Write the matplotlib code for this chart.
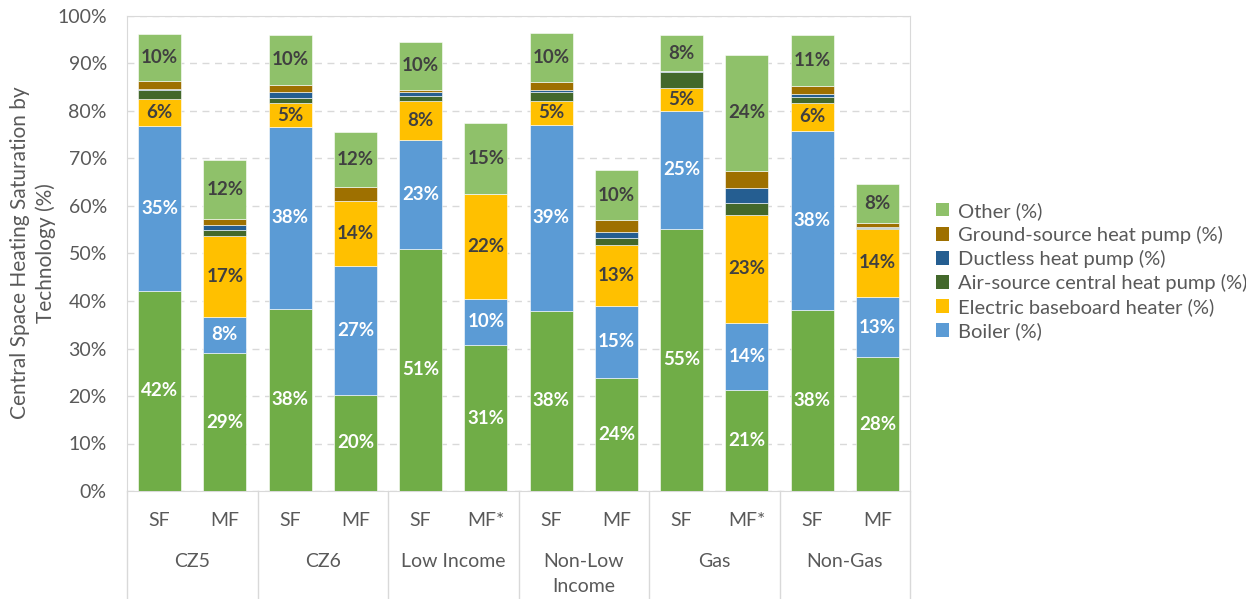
import matplotlib
matplotlib.use("Agg")
import matplotlib.pyplot as plt
from matplotlib.patches import Patch
from matplotlib.lines import Line2D
import numpy as np

plt.rcParams['font.family'] = ['Lato', 'DejaVu Sans']

groups = ["CZ5", "CZ6", "Low Income", "Non-Low\nIncome", "Gas", "Non-Gas"]
subs = ["SF", "MF", "SF", "MF", "SF", "MF*", "SF", "MF", "SF", "MF*", "SF", "MF"]

furnace  = [42.2, 29.0, 38.4, 20.3, 51.0, 30.7, 38.0, 23.8, 55.2, 21.2, 38.1, 28.2]
boiler   = [34.6, 7.7, 38.2, 27.0, 22.8, 9.8, 39.1, 15.2, 24.8, 14.2, 37.7, 12.6]
elec     = [5.8, 17.0, 5.1, 13.8, 8.2, 22.0, 5.1, 12.8, 4.8, 22.7, 5.9, 14.4]
ashp     = [1.8, 1.2, 1.1, 0.0, 1.2, 0.0, 1.8, 1.4, 3.4, 2.5, 1.3, 0.2]
ductless = [0.3, 1.1, 1.3, 0.0, 0.8, 0.0, 0.4, 1.3, 0.2, 3.1, 0.5, 0.1]
gshp     = [1.6, 1.2, 1.4, 2.8, 0.4, 0.0, 1.8, 2.6, 0.0, 3.7, 1.8, 0.9]
other    = [9.9, 12.4, 10.5, 11.6, 10.2, 15.0, 10.2, 10.4, 7.6, 24.4, 10.7, 8.2]

series = [
    ("Furnace (%)", furnace, "#70AD47", "white", False),
    ("Boiler (%)", boiler, "#5B9BD5", "white", True),
    ("Electric baseboard heater (%)", elec, "#FFC000", "#404040", True),
    ("Air-source central heat pump (%)", ashp, "#43682B", "#404040", True),
    ("Ductless heat pump (%)", ductless, "#255E91", "#404040", True),
    ("Ground-source heat pump (%)", gshp, "#9E7000", "#404040", True),
    ("Other (%)", other, "#8FC16A", "#404040", True),
]

W, H = 1246, 599
fig = plt.figure(figsize=(W / 100, H / 100), dpi=100)
ax = fig.add_axes([127 / W, (H - 491) / H, (910 - 127) / W, (491 - 16) / H])

x = np.arange(len(subs))
bottom = np.zeros(len(subs))
handles = []
for name, vals, col, tcol, inleg in series:
    vals = np.array(vals)
    ax.bar(x, vals, bottom=bottom, width=0.66, color=col, edgecolor="white",
           linewidth=0.4, zorder=3)
    for xi, b, v in zip(x, bottom, vals):
        if v >= 4:
            ax.text(xi, b + v / 2, f"{round(v):.0f}%", ha="center", va="center",
                    color=tcol, fontsize=13.5, fontweight="bold", zorder=4)
    bottom = bottom + vals
    if inleg:
        handles.append(Patch(facecolor=col, label=name))

ax.set_xlim(-0.5, len(subs) - 0.5)
ax.set_ylim(0, 100)
ax.set_yticks(np.arange(0, 101, 10))
ax.set_yticklabels([f"{v}%" for v in range(0, 101, 10)], fontsize=14, color="#595959")
ax.yaxis.grid(True, linestyle=(0, (5, 4)), color="#D9D9D9", linewidth=1, zorder=0)
ax.set_axisbelow(True)
ax.tick_params(axis="y", length=0, pad=14.5)
ax.tick_params(axis="x", length=0, pad=15)
ax.set_xticks(x)
ax.set_xticklabels(subs, fontsize=14, color="#595959")
for s in ["top", "right", "left", "bottom"]:
    ax.spines[s].set_color("#D9D9D9")

# group labels and separators
axh = 491 - 16
for gi, g in enumerate(groups):
    ax.text(gi * 2 + 0.5, -(553 - 491) / axh, g, transform=ax.get_xaxis_transform(),
            ha="center", va="top", fontsize=14, color="#595959", linespacing=1.6)
for k in range(len(groups) + 1):
    ax.add_line(Line2D([k * 2 - 0.5, k * 2 - 0.5], [0, -(599 - 491) / axh],
                       transform=ax.get_xaxis_transform(), color="#D9D9D9",
                       linewidth=1, clip_on=False))

fig.text(33 / W, (H - 253) / H, "Central Space Heating Saturation by\nTechnology (%)",
         rotation=90, ha="center", va="center", fontsize=15, color="#595959",
         linespacing=1.3)

handles = handles[::-1]
fig.legend(handles=handles, loc="center left", bbox_to_anchor=(918 / W, (H - 271) / H),
           frameon=False, fontsize=14.5, handlelength=0.65, handleheight=0.65,
           handletextpad=0.45, labelspacing=0.3, labelcolor="#595959")

fig.savefig("out.png", dpi=100)
